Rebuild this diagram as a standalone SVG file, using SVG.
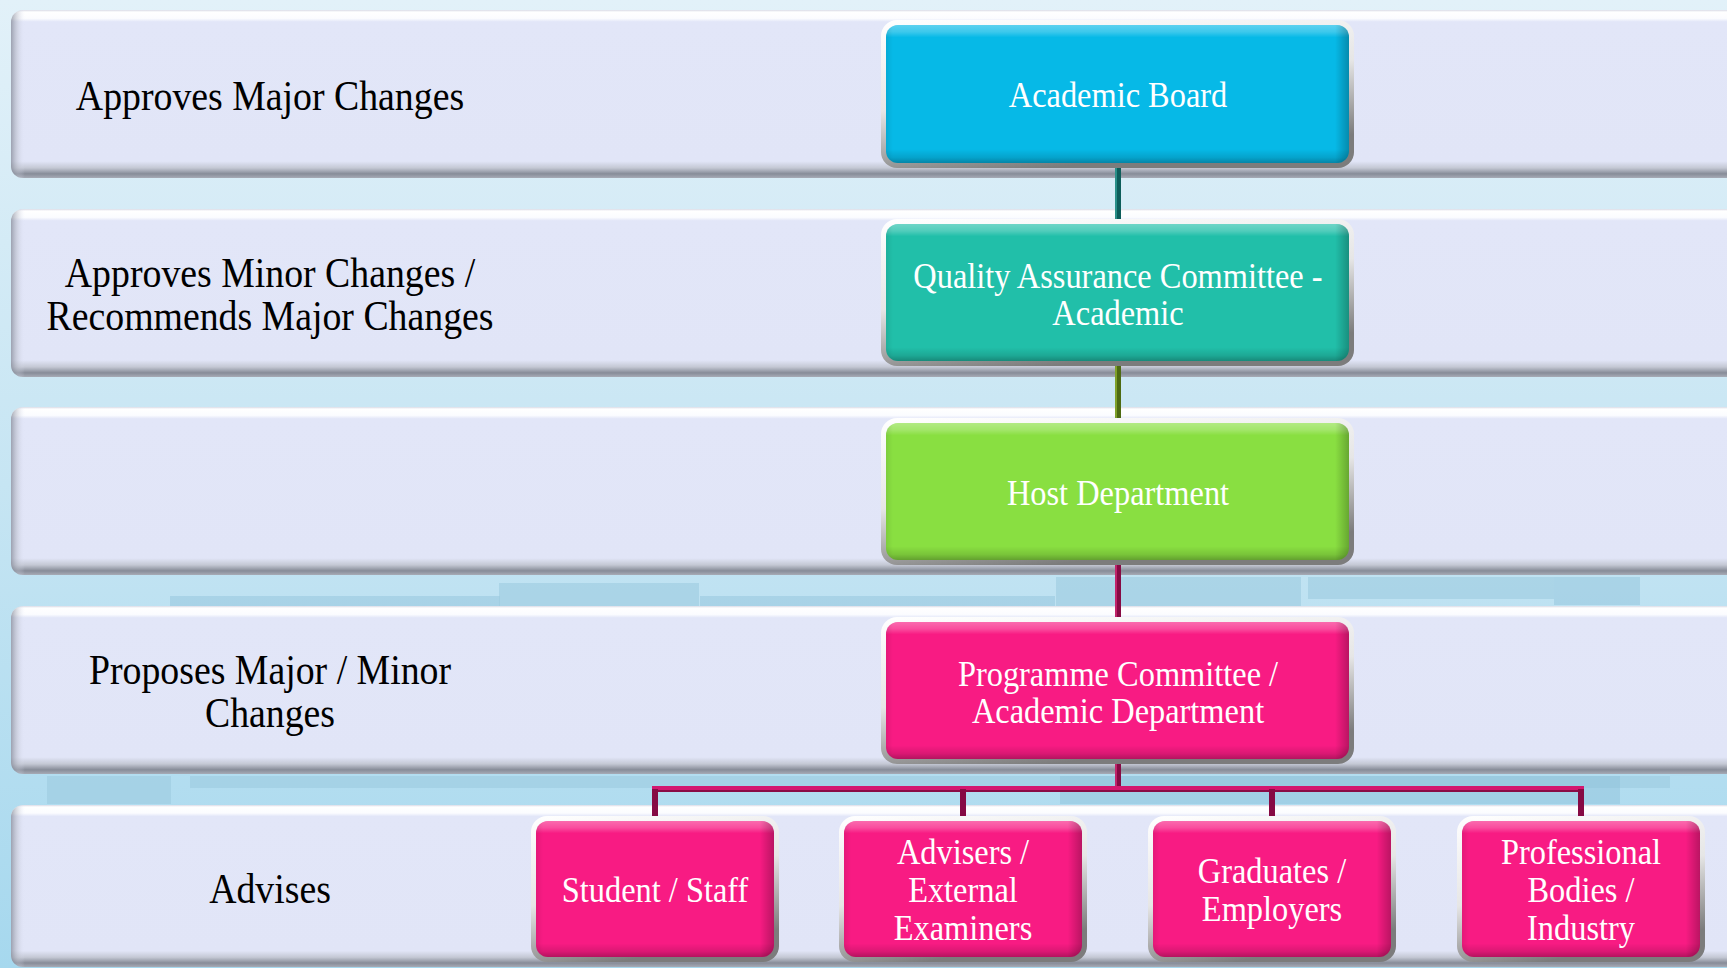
<svg xmlns="http://www.w3.org/2000/svg" width="1727" height="968" viewBox="0 0 1727 968">
<defs>
<linearGradient id="gBg" x1="0" y1="0" x2="0" y2="1">
<stop offset="0" stop-color="#e2f1f9"/>
<stop offset="0.5" stop-color="#c6e5f3"/>
<stop offset="1" stop-color="#a6d8ee"/>
</linearGradient>
<linearGradient id="gBand" x1="0" y1="0" x2="0" y2="1">
<stop offset="0" stop-color="#d9dbe6"/>
<stop offset="0.012" stop-color="#ffffff"/>
<stop offset="0.05" stop-color="#fbfcff"/>
<stop offset="0.07" stop-color="#e2e6f8"/>
<stop offset="0.9" stop-color="#e1e5f7"/>
<stop offset="0.94" stop-color="#c4c8d4"/>
<stop offset="0.975" stop-color="#878c98"/>
<stop offset="1" stop-color="#a7abb6"/>
</linearGradient>
<linearGradient id="gBandL" x1="0" y1="0" x2="1" y2="0">
<stop offset="0" stop-color="#7f8492" stop-opacity="0.7"/>
<stop offset="0.004" stop-color="#b9bdc9" stop-opacity="0.4"/>
<stop offset="0.008" stop-color="#e1e5f8" stop-opacity="0"/>
<stop offset="1" stop-color="#e1e5f8" stop-opacity="0"/>
</linearGradient>
<linearGradient id="gRing" x1="0" y1="0" x2="0.35" y2="1">
<stop offset="0" stop-color="#ffffff"/>
<stop offset="0.55" stop-color="#e6e6e6"/>
<stop offset="1" stop-color="#7c7c7c"/>
</linearGradient>
<linearGradient id="gShadeV" x1="0" y1="0" x2="0" y2="1">
<stop offset="0" stop-color="#ffffff" stop-opacity="0.35"/>
<stop offset="0.05" stop-color="#ffffff" stop-opacity="0.22"/>
<stop offset="0.09" stop-color="#ffffff" stop-opacity="0"/>
<stop offset="0.9" stop-color="#000000" stop-opacity="0"/>
<stop offset="0.96" stop-color="#000000" stop-opacity="0.12"/>
<stop offset="1" stop-color="#000000" stop-opacity="0.28"/>
</linearGradient>
<linearGradient id="gShadeH" x1="0" y1="0" x2="1" y2="0">
<stop offset="0" stop-color="#000000" stop-opacity="0.08"/>
<stop offset="0.015" stop-color="#000000" stop-opacity="0"/>
<stop offset="0.97" stop-color="#000000" stop-opacity="0"/>
<stop offset="1" stop-color="#000000" stop-opacity="0.25"/>
</linearGradient>
<linearGradient id="gShadeHs" x1="0" y1="0" x2="1" y2="0">
<stop offset="0" stop-color="#000000" stop-opacity="0.08"/>
<stop offset="0.03" stop-color="#000000" stop-opacity="0"/>
<stop offset="0.94" stop-color="#000000" stop-opacity="0"/>
<stop offset="1" stop-color="#000000" stop-opacity="0.25"/>
</linearGradient>
</defs>
<style>
.band{fill:url(#gBand);}
.bandl{fill:url(#gBandL);}
.ring{fill:url(#gRing);}
.sv{fill:url(#gShadeV);}
.sh{fill:url(#gShadeH);}
.shs{fill:url(#gShadeHs);}
.cyan{fill:#06b9e7;}
.teal{fill:#21bfa9;}
.green{fill:#89df41;}
.pink{fill:#f81b83;}
.lbl{font-family:"Liberation Serif","Times New Roman",serif;font-size:42px;fill:#000000;text-anchor:middle;}
.bt{font-family:"Liberation Serif","Times New Roman",serif;font-size:36px;fill:#ffffff;text-anchor:middle;}
.bldg{fill:#8fc1d9;opacity:0.45;}
.bldg2{fill:#9ccbe0;opacity:0.6;}
</style>

<rect x="0" y="0" width="1727" height="968" fill="url(#gBg)"/>

<g id="background-scenery">
<rect class="bldg" x="170" y="596" width="330" height="10"/>
<rect class="bldg2" x="499" y="583" width="200" height="24"/>
<rect class="bldg" x="700" y="596" width="355" height="10"/>
<rect class="bldg2" x="1056" y="577" width="245" height="30"/>
<rect class="bldg2" x="1308" y="577" width="246" height="22"/>
<rect class="bldg" x="1554" y="577" width="86" height="28"/>
<rect class="bldg2" x="47" y="776" width="124" height="28"/>
<rect class="bldg2" x="190" y="776" width="1480" height="12"/>
<rect class="bldg" x="1060" y="776" width="560" height="28"/>
</g>

<g id="rows">
<rect class="band" x="11" y="10" width="1730" height="168" rx="12"/>
<rect class="bandl" x="11" y="10" width="1730" height="168" rx="12"/>
<rect class="band" x="11" y="209" width="1730" height="168" rx="12"/>
<rect class="bandl" x="11" y="209" width="1730" height="168" rx="12"/>
<rect class="band" x="11" y="407" width="1730" height="168" rx="12"/>
<rect class="bandl" x="11" y="407" width="1730" height="168" rx="12"/>
<rect class="band" x="11" y="606" width="1730" height="168" rx="12"/>
<rect class="bandl" x="11" y="606" width="1730" height="168" rx="12"/>
<rect class="band" x="11" y="805" width="1730" height="162" rx="12"/>
<rect class="bandl" x="11" y="805" width="1730" height="162" rx="12"/>
</g>

<g id="row-labels">
<g id="label-approves-major">
<text class="lbl" transform="translate(270 0) scale(0.9 1)"><tspan x="0" y="110">Approves Major Changes</tspan></text>
</g>
<g id="label-approves-minor">
<text class="lbl" transform="translate(270 0) scale(0.9 1)"><tspan x="0" y="287">Approves Minor Changes /</tspan><tspan x="0" y="330">Recommends Major Changes</tspan></text>
</g>
<g id="label-proposes">
<text class="lbl" transform="translate(270 0) scale(0.9 1)"><tspan x="0" y="684">Proposes Major / Minor</tspan><tspan x="0" y="727">Changes</tspan></text>
</g>
<g id="label-advises">
<text class="lbl" transform="translate(270 0) scale(0.9 1)"><tspan x="0" y="903">Advises</tspan></text>
</g>
</g>

<g id="connectors">
<rect x="1115" y="166" width="6" height="55" fill="#0d5d5a"/>
<rect x="1115" y="166" width="2" height="55" fill="#2a8f88"/>
<rect x="1115" y="364" width="6" height="56" fill="#4d6a12"/>
<rect x="1115" y="364" width="2" height="56" fill="#7fa02a"/>
<rect x="1115" y="563" width="6" height="56" fill="#860a44"/>
<rect x="1115" y="563" width="2" height="56" fill="#c0246a"/>
<rect x="1115" y="762" width="6" height="29" fill="#860a44"/>
<rect x="1115" y="762" width="2" height="29" fill="#c0246a"/>
<rect x="652" y="786" width="932" height="6" fill="#d3176f"/>
<rect x="652" y="790" width="932" height="2" fill="#8a0c46"/>
<rect x="652" y="789" width="6" height="29" fill="#860a44"/>
<rect x="960" y="789" width="6" height="29" fill="#860a44"/>
<rect x="1269" y="789" width="6" height="29" fill="#860a44"/>
<rect x="1578" y="789" width="6" height="29" fill="#860a44"/>
</g>

<g id="node-academic-board">
<rect class="ring" x="881" y="20" width="473" height="148" rx="16"/>
<rect class="cyan" x="886" y="25" width="463" height="138" rx="12"/>
<rect class="sv" x="886" y="25" width="463" height="138" rx="12"/>
<rect class="sh" x="886" y="25" width="463" height="138" rx="12"/>
<text class="bt" transform="translate(1118 0) scale(0.9 1)"><tspan x="0" y="107">Academic Board</tspan></text>
</g>

<g id="node-qac">
<rect class="ring" x="881" y="219" width="473" height="147" rx="16"/>
<rect class="teal" x="886" y="224" width="463" height="137" rx="12"/>
<rect class="sv" x="886" y="224" width="463" height="137" rx="12"/>
<rect class="sh" x="886" y="224" width="463" height="137" rx="12"/>
<text class="bt" transform="translate(1118 0) scale(0.9 1)"><tspan x="0" y="288">Quality Assurance Committee -</tspan><tspan x="0" y="325">Academic</tspan></text>
</g>

<g id="node-host-department">
<rect class="ring" x="881" y="418" width="473" height="147" rx="16"/>
<rect class="green" x="886" y="423" width="463" height="137" rx="12"/>
<rect class="sv" x="886" y="423" width="463" height="137" rx="12"/>
<rect class="sh" x="886" y="423" width="463" height="137" rx="12"/>
<text class="bt" transform="translate(1118 0) scale(0.9 1)"><tspan x="0" y="505">Host Department</tspan></text>
</g>

<g id="node-programme-committee">
<rect class="ring" x="881" y="617" width="473" height="147" rx="16"/>
<rect class="pink" x="886" y="622" width="463" height="137" rx="12"/>
<rect class="sv" x="886" y="622" width="463" height="137" rx="12"/>
<rect class="sh" x="886" y="622" width="463" height="137" rx="12"/>
<text class="bt" transform="translate(1118 0) scale(0.9 1)"><tspan x="0" y="686">Programme Committee /</tspan><tspan x="0" y="723">Academic Department</tspan></text>
</g>

<g id="node-student-staff">
<rect class="ring" x="531" y="816" width="248" height="146" rx="16"/>
<rect class="pink" x="536" y="821" width="238" height="136" rx="12"/>
<rect class="sv" x="536" y="821" width="238" height="136" rx="12"/>
<rect class="shs" x="536" y="821" width="238" height="136" rx="12"/>
<text class="bt" transform="translate(655 0) scale(0.9 1)"><tspan x="0" y="902">Student / Staff</tspan></text>
</g>

<g id="node-advisers">
<rect class="ring" x="839" y="816" width="248" height="146" rx="16"/>
<rect class="pink" x="844" y="821" width="238" height="136" rx="12"/>
<rect class="sv" x="844" y="821" width="238" height="136" rx="12"/>
<rect class="shs" x="844" y="821" width="238" height="136" rx="12"/>
<text class="bt" transform="translate(963 0) scale(0.9 1)"><tspan x="0" y="864">Advisers /</tspan><tspan x="0" y="902">External</tspan><tspan x="0" y="940">Examiners</tspan></text>
</g>

<g id="node-graduates">
<rect class="ring" x="1148" y="816" width="248" height="146" rx="16"/>
<rect class="pink" x="1153" y="821" width="238" height="136" rx="12"/>
<rect class="sv" x="1153" y="821" width="238" height="136" rx="12"/>
<rect class="shs" x="1153" y="821" width="238" height="136" rx="12"/>
<text class="bt" transform="translate(1272 0) scale(0.9 1)"><tspan x="0" y="883">Graduates /</tspan><tspan x="0" y="921">Employers</tspan></text>
</g>

<g id="node-professional-bodies">
<rect class="ring" x="1457" y="816" width="248" height="146" rx="16"/>
<rect class="pink" x="1462" y="821" width="238" height="136" rx="12"/>
<rect class="sv" x="1462" y="821" width="238" height="136" rx="12"/>
<rect class="shs" x="1462" y="821" width="238" height="136" rx="12"/>
<text class="bt" transform="translate(1581 0) scale(0.9 1)"><tspan x="0" y="864">Professional</tspan><tspan x="0" y="902">Bodies /</tspan><tspan x="0" y="940">Industry</tspan></text>
</g>
</svg>
